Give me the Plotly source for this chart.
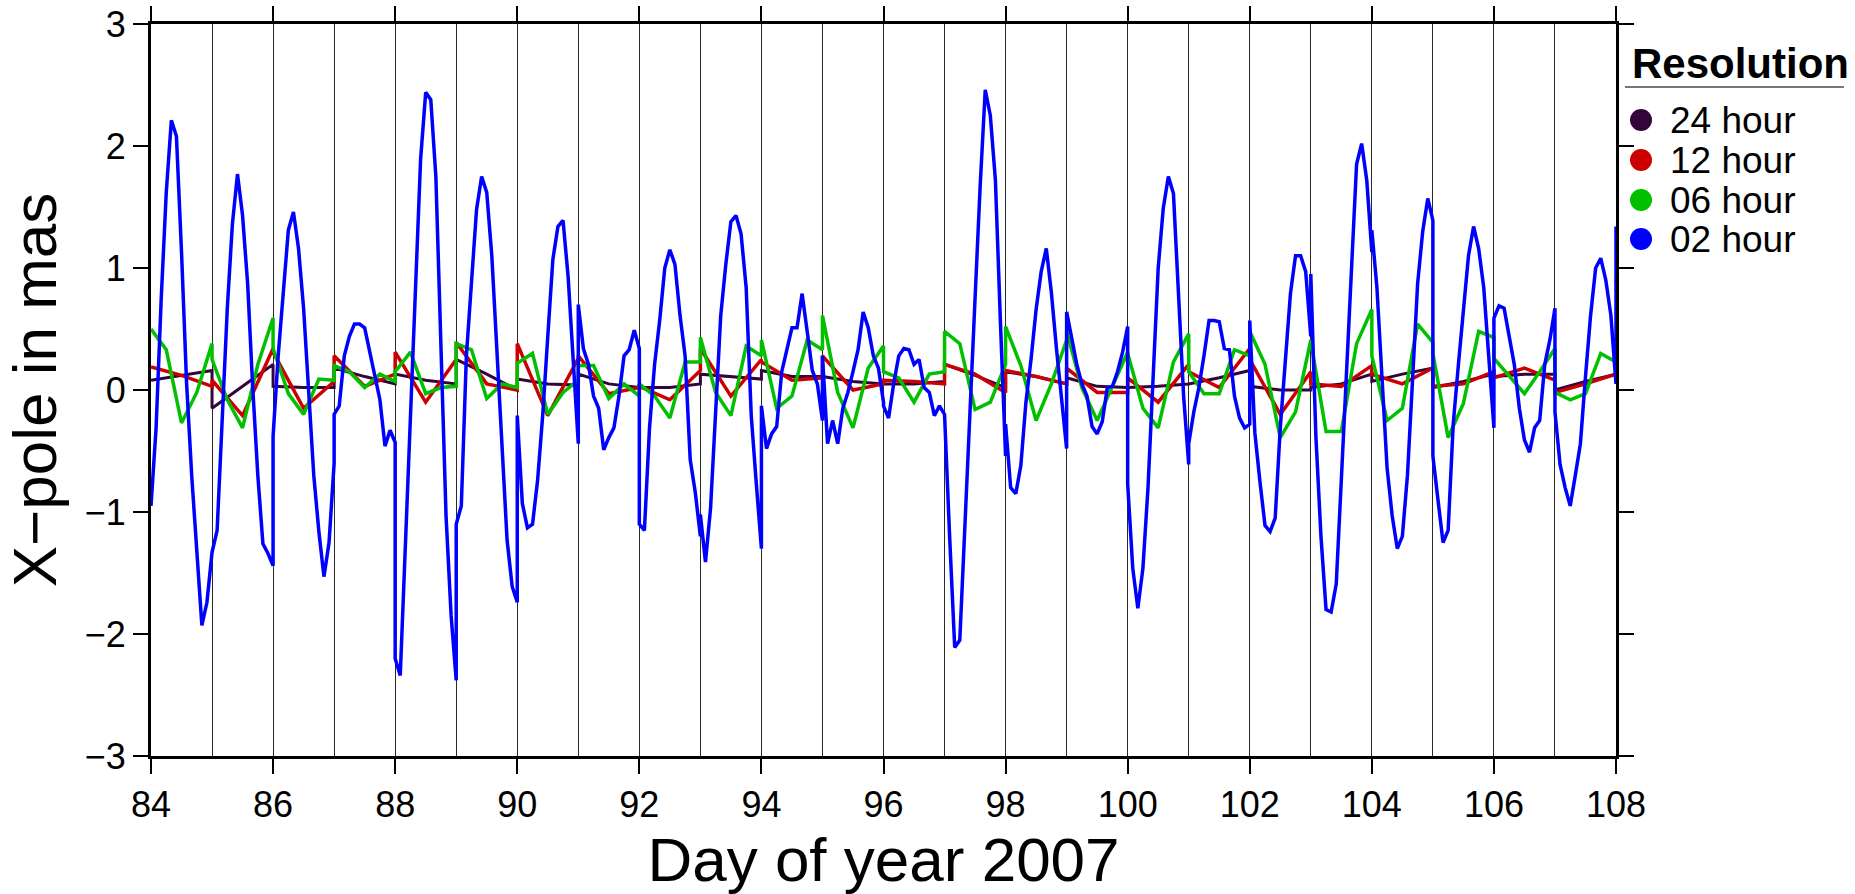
import plotly.graph_objects as go

# Day-of-year for each daily solution segment
days = list(range(84, 108))

# X-pole estimates (mas), one list per day, sampled at the stated resolution
xpole_24h = [
    [0.08, 0.12, 0.16], [-0.15, 0.03, 0.21], [0.03, 0.02, 0.02], [0.18, 0.11, 0.05],
    [0.13, 0.08, 0.05], [0.25, 0.13, 0.00], [0.09, 0.05, 0.04], [0.13, 0.05, 0.02],
    [0.02, 0.02, 0.05], [0.13, 0.11, 0.09], [0.16, 0.11, 0.11], [0.11, 0.07, 0.05],
    [0.05, 0.05, 0.07], [0.21, 0.12, 0.02], [0.15, 0.11, 0.05], [0.10, 0.03, 0.02],
    [0.02, 0.03, 0.05], [0.05, 0.10, 0.16], [0.03, 0.00, 0.00], [0.02, 0.05, 0.13],
    [0.07, 0.13, 0.18], [0.02, 0.07, 0.13], [0.11, 0.13, 0.13], [0.00, 0.07, 0.13],
]

xpole_12h = [
    [0.19, 0.12, 0.03], [0.08, -0.21, 0.34], [0.31, -0.15, 0.07], [0.28, 0.03, 0.13],
    [0.31, -0.10, 0.25], [0.39, 0.05, 0.00], [0.38, -0.21, 0.26], [0.28, -0.03, 0.02],
    [0.03, -0.08, 0.16], [0.34, -0.05, 0.25], [0.23, 0.08, 0.10], [0.28, 0.00, 0.05],
    [0.08, 0.07, 0.05], [0.21, 0.13, -0.02], [0.16, 0.11, 0.05], [0.18, -0.02, -0.02],
    [0.10, -0.10, 0.21], [0.15, 0.02, 0.34], [0.25, -0.20, 0.15], [0.05, 0.03, 0.20],
    [0.13, 0.05, 0.18], [0.03, 0.05, 0.15], [0.10, 0.18, 0.08], [-0.02, 0.05, 0.13],
]

xpole_06h = [
    [0.50, 0.33, -0.27, -0.02, 0.38], [0.25, -0.08, -0.31, 0.21, 0.59],
    [0.34, -0.03, -0.20, 0.09, 0.08], [0.20, 0.15, 0.02, 0.13, 0.07],
    [0.15, 0.31, -0.03, 0.02, 0.03], [0.38, 0.33, -0.07, 0.05, 0.02],
    [0.22, 0.30, -0.20, -0.02, 0.08], [0.20, 0.20, -0.07, 0.05, -0.05],
    [0.05, -0.05, -0.23, 0.23, 0.23], [0.43, -0.02, -0.21, 0.36, 0.28],
    [0.41, -0.15, -0.05, 0.41, 0.33], [0.61, -0.02, -0.31, 0.18, 0.36],
    [0.15, 0.10, -0.10, 0.13, 0.15], [0.48, 0.38, -0.16, -0.10, 0.21],
    [0.52, 0.20, -0.25, 0.05, 0.41], [0.48, 0.02, -0.25, 0.03, 0.31],
    [0.30, -0.15, -0.31, 0.23, 0.46], [0.15, -0.03, -0.03, 0.33, 0.28],
    [0.48, 0.21, -0.39, -0.18, 0.41], [0.40, -0.34, -0.34, 0.38, 0.66],
    [0.28, -0.25, -0.15, 0.54, 0.39], [0.30, -0.39, -0.11, 0.48, 0.43],
    [0.26, 0.11, -0.03, 0.15, 0.34], [-0.02, -0.08, -0.03, 0.30, 0.23],
]

xpole_02h = [
    [-0.95, -0.31, 0.74, 1.62, 2.21, 2.08, 1.13, 0.05, -0.70, -1.36, -1.93, -1.74, -1.39],
    [-1.33, -1.15, -0.21, 0.67, 1.36, 1.77, 1.43, 0.87, 0.02, -0.70, -1.26, -1.34, -1.44],
    [-0.38, 0.28, 0.77, 1.31, 1.46, 1.16, 0.67, -0.05, -0.70, -1.16, -1.53, -1.25, -0.60],
    [-0.20, -0.13, 0.28, 0.44, 0.54, 0.54, 0.51, 0.31, 0.11, -0.08, -0.46, -0.33, -0.43],
    [-2.20, -2.34, -1.30, -0.25, 0.80, 1.89, 2.44, 2.38, 1.75, 0.28, -1.03, -1.85, -2.38],
    [-1.10, -0.95, 0.28, 0.84, 1.48, 1.75, 1.62, 1.10, 0.28, -0.54, -1.23, -1.61, -1.74],
    [-0.21, -0.93, -1.13, -1.10, -0.74, -0.21, 0.44, 1.07, 1.34, 1.39, 0.93, 0.28, -0.44],
    [0.70, 0.34, 0.21, -0.05, -0.15, -0.49, -0.39, -0.31, -0.05, 0.28, 0.33, 0.49, 0.34],
    [-1.10, -1.15, -0.31, 0.21, 0.57, 1.00, 1.15, 1.03, 0.61, 0.28, -0.57, -0.84, -1.20],
    [-1.02, -1.41, -0.97, -0.21, 0.61, 1.03, 1.38, 1.43, 1.28, 0.84, -0.21, -0.77, -1.30],
    [-0.13, -0.48, -0.36, -0.30, 0.15, 0.34, 0.51, 0.51, 0.79, 0.48, 0.16, 0.05, -0.25],
    [0.28, -0.44, -0.25, -0.44, -0.15, -0.02, 0.15, 0.33, 0.64, 0.51, 0.28, 0.18, -0.10],
    [-0.13, -0.23, 0.05, 0.28, 0.34, 0.33, 0.21, 0.25, 0.02, -0.02, -0.21, -0.13, -0.20],
    [-0.20, -1.20, -2.11, -2.05, -1.07, -0.16, 0.75, 1.67, 2.46, 2.25, 1.72, 0.54, -0.54],
    [-0.28, -0.80, -0.85, -0.62, -0.10, 0.25, 0.66, 0.97, 1.16, 0.80, 0.34, -0.05, -0.48],
    [0.64, 0.41, 0.21, 0.05, -0.05, -0.30, -0.36, -0.26, 0.02, 0.03, 0.15, 0.31, 0.52],
    [-0.77, -1.46, -1.79, -1.46, -0.80, 0.10, 1.00, 1.49, 1.75, 1.61, 0.74, -0.05, -0.61],
    [-0.44, -0.18, 0.02, 0.28, 0.57, 0.57, 0.56, 0.34, 0.33, -0.05, -0.23, -0.31, -0.28],
    [0.57, -0.35, -0.75, -1.11, -1.16, -1.05, -0.31, 0.25, 0.79, 1.10, 1.10, 0.97, 0.44],
    [0.95, -0.38, -1.20, -1.80, -1.82, -1.59, -0.74, 0.16, 1.00, 1.85, 2.02, 1.72, 1.13],
    [1.31, 0.84, 0.11, -0.64, -1.03, -1.30, -1.20, -0.70, 0.08, 0.87, 1.30, 1.57, 1.39],
    [-0.54, -0.90, -1.25, -1.15, -0.28, 0.20, 0.67, 1.10, 1.34, 1.16, 0.84, 0.25, -0.31],
    [0.59, 0.69, 0.67, 0.44, 0.21, -0.15, -0.41, -0.51, -0.31, -0.25, 0.21, 0.41, 0.67],
    [-0.18, -0.61, -0.80, -0.95, -0.70, -0.44, 0.11, 0.61, 1.00, 1.08, 0.90, 0.61, 0.05],
]
# first epoch of the following day's 2-hour solution
xpole_02h_day108 = [1.34]

series_names = ["24 hour", "12 hour", "06 hour", "02 hour"]
series_colors = ["#33053a", "#cc0000", "#00c000", "#0000ff"]
series_widths = [3, 3.5, 3.5, 3.5]
series_data = [xpole_24h, xpole_12h, xpole_06h, xpole_02h + [xpole_02h_day108]]
series_days = [days, days, days, days + [108]]

x_ticks = list(range(84, 109, 2))
y_ticks = list(range(-3, 4))

FONT = "Liberation Sans, Arial, Helvetica, sans-serif"
W, H = 1855, 894
L, R, T, B = 151, 239, 24, 138
PW, PH = W - L - R, H - T - B


def px_x(px):
    return (px - L) / PW


def px_y(py):
    return (H - B - py) / PH


def day_series(day_list, per_day):
    """Join daily segments into one polyline; each day spans d .. d+1."""
    xs, ys = [], []
    for d, vals in zip(day_list, per_day):
        n = len(vals)
        for k, v in enumerate(vals):
            xs.append(d + (k / (n - 1) if n > 1 else 0))
            ys.append(v)
    return xs, ys


fig = go.Figure()
for name, color, width, dlist, data in zip(series_names, series_colors, series_widths,
                                           series_days, series_data):
    xs, ys = day_series(dlist, data)
    fig.add_trace(go.Scatter(
        x=xs, y=ys, mode="lines", name=name,
        line=dict(color=color, width=width),
        showlegend=False, cliponaxis=True,
    ))

axis_common = dict(
    showline=True, linecolor="black", linewidth=3, mirror="ticks",
    ticks="outside", ticklen=15, tickwidth=2, tickcolor="black",
    zeroline=False, automargin=False,
    tickfont=dict(family=FONT, size=36, color="black"),
)

fig.update_xaxes(
    range=[84, 108], tickvals=x_ticks,
    showgrid=True, gridcolor="#2a2a2a", gridwidth=1,
    minor=dict(dtick=1, showgrid=True, gridcolor="#2a2a2a", gridwidth=1, ticks=""),
    title=dict(text="Day of year 2007", font=dict(family=FONT, size=62, color="black"), standoff=12),
    **axis_common,
)
fig.update_yaxes(
    range=[-3, 3], tickvals=y_ticks, showgrid=False,
    title=dict(text="X\u2212pole in mas", font=dict(family=FONT, size=62, color="black"), standoff=14),
    **axis_common,
)

# Legend block: title, rule, coloured dots and labels
shapes = [dict(
    type="line", xref="paper", yref="paper",
    x0=px_x(1625), x1=px_x(1844), y0=px_y(87), y1=px_y(87),
    line=dict(color="#777777", width=2),
)]
annotations = [dict(
    text="<b>Resolution</b>", xref="paper", yref="paper",
    x=px_x(1630), y=px_y(63), xanchor="left", yanchor="middle", showarrow=False,
    font=dict(family=FONT, size=42, color="black"),
)]
row_y = [120, 160, 200, 239]
for name, color, ry in zip(series_names, series_colors, row_y):
    shapes.append(dict(
        type="circle", xref="paper", yref="paper",
        xsizemode="pixel", ysizemode="pixel",
        xanchor=px_x(1641), yanchor=px_y(ry),
        x0=-11, x1=11, y0=-11, y1=11,
        fillcolor=color, line=dict(width=0),
    ))
    annotations.append(dict(
        text=name, xref="paper", yref="paper",
        x=px_x(1668), y=px_y(ry), xanchor="left", yanchor="middle", showarrow=False,
        font=dict(family=FONT, size=37, color="black"),
    ))

fig.update_layout(
    width=W, height=H,
    margin=dict(l=L, r=R, t=T, b=B),
    paper_bgcolor="white", plot_bgcolor="white",
    shapes=shapes, annotations=annotations,
    showlegend=False,
)

fig.write_html("out.html")
